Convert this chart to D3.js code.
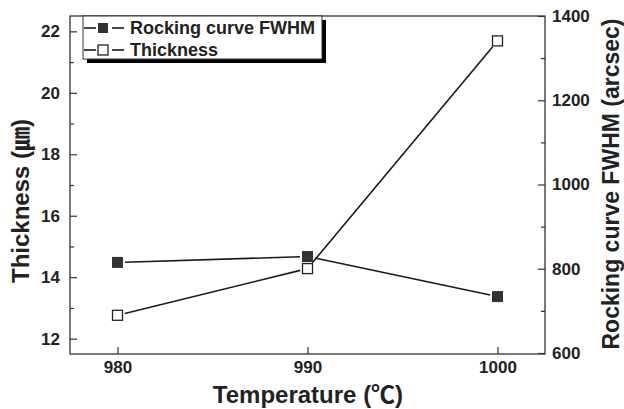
<!DOCTYPE html>
<html>
<head>
<meta charset="utf-8">
<script src="https://cdn.jsdelivr.net/npm/d3@7"></script>
<style>
  body { margin: 0; background: #fff; }
  text { font-family: "Liberation Sans", Arial, "Noto Sans CJK JP", sans-serif; font-weight: bold; fill: #222; }
</style>
</head>
<body>
<div id="chart"></div>
<script>
// data
const temperatures = [980, 990, 1000];
const fwhm = [815, 829, 734];          // right axis (arcsec)
const thickness = [12.76, 14.28, 21.69]; // left axis (um)
const xTicks = [980, 990, 1000];
const leftTicks = [12, 14, 16, 18, 20, 22];
const leftMinor = [13, 15, 17, 19, 21];
const rightTicks = [600, 800, 1000, 1200, 1400];
const rightMinor = [700, 900, 1100, 1300];

const W = 624, H = 409;
const m = { left: 70, right: 79, top: 16, bottom: 55 };
const iw = W - m.left - m.right, ih = H - m.top - m.bottom;

const svg = d3.select('#chart').append('svg')
    .attr('width', W).attr('height', H);

const g = svg.append('g').attr('transform', `translate(${m.left},${m.top})`);

const x = d3.scaleLinear().domain([977.5, 1002.5]).range([0, iw]);
const yL = d3.scaleLinear().domain([11.5, 22.5]).range([ih, 0]);
const yR = d3.scaleLinear().domain([600, 1400]).range([ih - 1, 0]);

const axisColor = '#333';

// frame
g.append('rect').attr('width', iw).attr('height', ih)
    .attr('fill', 'none').attr('stroke', axisColor).attr('stroke-width', 1.3);

function styleAxis(sel) {
    sel.select('.domain').remove();
    sel.selectAll('line').attr('stroke', axisColor).attr('stroke-width', 1.2);
    sel.selectAll('text').style('font-size', '17px').attr('fill', '#222');
}

// bottom axis, ticks inside
g.append('g').attr('transform', `translate(0,${ih})`)
    .call(d3.axisBottom(x).tickValues(xTicks).tickSize(-7).tickPadding(7).tickFormat(d3.format('d')))
    .call(styleAxis);

// left axis
g.append('g')
    .call(d3.axisLeft(yL).tickValues(leftTicks).tickSize(-7).tickPadding(10).tickFormat(d3.format('d')))
    .call(styleAxis);
g.append('g')
    .call(d3.axisLeft(yL).tickValues(leftMinor).tickSize(-4).tickFormat(''))
    .call(styleAxis);

// right axis
g.append('g').attr('transform', `translate(${iw},0)`)
    .call(d3.axisRight(yR).tickValues(rightTicks).tickSize(-7).tickPadding(7).tickFormat(d3.format('d')))
    .call(styleAxis);
g.append('g').attr('transform', `translate(${iw},0)`)
    .call(d3.axisRight(yR).tickValues(rightMinor).tickSize(-4).tickFormat(''))
    .call(styleAxis);

// lines, with small gaps at the markers
const fwhmPts = temperatures.map((t, i) => [x(t), yR(fwhm[i])]);
const thickPts = temperatures.map((t, i) => [x(t), yL(thickness[i])]);

function drawGapLine(pts, gap) {
    for (let i = 0; i < pts.length - 1; i++) {
        const [x1, y1] = pts[i], [x2, y2] = pts[i + 1];
        const len = Math.hypot(x2 - x1, y2 - y1);
        const ux = (x2 - x1) / len, uy = (y2 - y1) / len;
        g.append('line')
            .attr('x1', x1 + ux * gap).attr('y1', y1 + uy * gap)
            .attr('x2', x2 - ux * gap).attr('y2', y2 - uy * gap)
            .attr('stroke', '#1a1a1a').attr('stroke-width', 1.6);
    }
}
drawGapLine(fwhmPts, 7.5);
drawGapLine(thickPts, 7.5);

// markers
g.selectAll('.sq-fill').data(fwhmPts).enter().append('rect')
    .attr('class', 'sq-fill')
    .attr('x', d => d[0] - 5.5).attr('y', d => d[1] - 5.5)
    .attr('width', 11).attr('height', 11)
    .attr('fill', '#333');
g.selectAll('.sq-open').data(thickPts).enter().append('rect')
    .attr('class', 'sq-open')
    .attr('x', d => d[0] - 5).attr('y', d => d[1] - 5)
    .attr('width', 10).attr('height', 10)
    .attr('fill', '#fff').attr('stroke', '#222').attr('stroke-width', 1.3);

// legend with drop shadow
const lg = svg.append('g').attr('transform', 'translate(83,16)');
const lw = 239, lh = 43;
lg.append('rect').attr('x', 4).attr('y', 4).attr('width', lw).attr('height', lh).attr('fill', '#000');
lg.append('rect').attr('width', lw).attr('height', lh).attr('fill', '#fff')
    .attr('stroke', axisColor).attr('stroke-width', 1);

const legendItems = [
    { name: 'Rocking curve FWHM', filled: true, y: 12 },
    { name: 'Thickness', filled: false, y: 34 }
];
legendItems.forEach(d => {
    lg.append('line').attr('x1', 1).attr('x2', 13).attr('y1', d.y).attr('y2', d.y)
        .attr('stroke', '#1a1a1a').attr('stroke-width', 1.6);
    lg.append('line').attr('x1', 29).attr('x2', 41).attr('y1', d.y).attr('y2', d.y)
        .attr('stroke', '#1a1a1a').attr('stroke-width', 1.6);
    lg.append('rect').attr('x', 15).attr('y', d.y - 5).attr('width', 10).attr('height', 10)
        .attr('fill', d.filled ? '#333' : '#fff')
        .attr('stroke', d.filled ? 'none' : '#222').attr('stroke-width', 1.3);
    lg.append('text').attr('x', 47).attr('y', d.y + 6)
        .style('font-size', '18px').text(d.name);
});

// axis titles
svg.append('text').attr('x', 308).attr('y', 403)
    .attr('text-anchor', 'middle').style('font-size', '24px')
    .text('Temperature (\u2103)');
svg.append('text')
    .attr('transform', `translate(29,201) rotate(-90)`)
    .attr('text-anchor', 'middle').style('font-size', '24px')
    .text('Thickness (\u339B)');
svg.append('text')
    .attr('transform', `translate(619,184) rotate(-90)`)
    .attr('text-anchor', 'middle').style('font-size', '23px')
    .text('Rocking curve FWHM (arcsec)');
</script>
</body>
</html>
